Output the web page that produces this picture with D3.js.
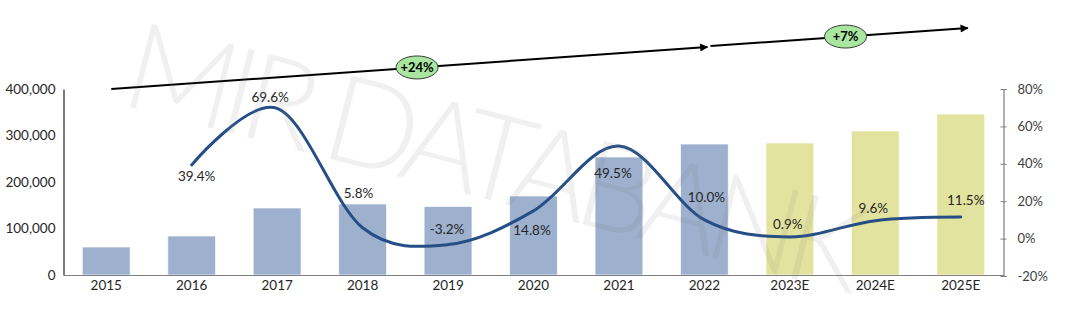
<!DOCTYPE html>
<html>
<head>
<meta charset="utf-8">
<script src="https://cdn.jsdelivr.net/npm/d3@7"></script>
<style>
  html, body { margin: 0; padding: 0; background: #fff; }
  svg text { font-family: Lato, "Liberation Sans", sans-serif; }
</style>
</head>
<body>
<svg id="chart" width="1080" height="322"></svg>
<script>
// ---- data ----
const years = ["2015", "2016", "2017", "2018", "2019", "2020", "2021", "2022", "2023E", "2024E", "2025E"];
const volume = [60200, 83900, 144100, 152700, 147300, 169900, 253800, 281700, 283900, 309700, 346200];
const growthYears = ["2016", "2017", "2018", "2019", "2020", "2021", "2022", "2023E", "2024E", "2025E"];
const growth = [39.4, 69.6, 5.8, -3.2, 14.8, 49.5, 10.0, 0.9, 9.6, 11.5];
const forecastYears = ["2023E", "2024E", "2025E"];
const leftTicks = [0, 100000, 200000, 300000, 400000];
const rightTicks = [-20, 0, 20, 40, 60, 80];
const cagrLabels = ["+24%", "+7%"];
const cagrSpans = [["2015", "2022"], ["2022", "2025E"]];

// ---- layout ----
const plot = { left: 63.5, right: 1003.5, top: 89, bottom: 275 };
// label nudges (dx, dy) from each growth point
const labelNudge = [[5, 11], [-7, -11], [-4, -35], [-1, -15.5], [-1.5, 19], [-6, 27], [2, -23], [-2, -13], [-2, -13], [5, -16.5]];

const svg = d3.select("#chart");

const x = d3.scaleBand().domain(years).range([plot.left, plot.right])
  .paddingInner(0.44).paddingOuter(0.22);
const yL = d3.scaleLinear().domain([0, 400000]).range([plot.bottom, plot.top]);
const yR = d3.scaleLinear().domain([-20, 80]).range([plot.bottom + 1, plot.top]);
const cx = d => x(d) + x.bandwidth() / 2;

// bars
svg.append("g").selectAll("rect").data(years).join("rect")
  .attr("x", d => x(d))
  .attr("width", x.bandwidth())
  .attr("y", (d, i) => yL(volume[i]))
  .attr("height", (d, i) => plot.bottom - yL(volume[i]))
  .attr("fill", d => forecastYears.includes(d) ? "#e2e39e" : "#9db0ce")
  .attr("stroke", "rgba(255,255,255,0.7)")
  .attr("stroke-width", 1);

// left axis: line and labels only
const gL = svg.append("g").attr("transform", `translate(${plot.left},0)`)
  .call(d3.axisLeft(yL).tickValues(leftTicks).tickSize(0).tickPadding(8)
    .tickFormat(d3.format(",")));
gL.select(".domain").attr("stroke", "#262626").attr("stroke-width", 1.2);
gL.selectAll("text").attr("font-size", 13.5).attr("fill", "#262626");

// right axis
const gR = svg.append("g").attr("transform", `translate(${plot.right},0)`)
  .call(d3.axisRight(yR).tickValues(rightTicks).tickSize(3).tickPadding(11)
    .tickFormat(d => d + "%"));
gR.select(".domain").attr("stroke", "#7f7f7f").attr("stroke-width", 1.2);
gR.selectAll(".tick line").attr("x1", -3).attr("x2", 3).attr("stroke", "#7f7f7f");
gR.selectAll("text").attr("font-size", 13).attr("fill", "#404040");

// category axis
const gX = svg.append("g").attr("transform", `translate(0,${plot.bottom})`)
  .call(d3.axisBottom(x).tickSize(0).tickPadding(5));
gX.select(".domain").attr("stroke", "#808080").attr("stroke-width", 1.2);
gX.selectAll("text").attr("font-size", 13.5).attr("fill", "#262626");

// growth line
const pts = growthYears.map((d, i) => [cx(d), yR(growth[i])]);
svg.append("path")
  .attr("d", d3.line().curve(d3.curveCardinal.tension(0))(pts))
  .attr("fill", "none")
  .attr("stroke", "#264e86")
  .attr("stroke-width", 3)
  .attr("stroke-linecap", "round");

svg.append("g").selectAll("text").data(growthYears).join("text")
  .attr("x", (d, i) => cx(d) + labelNudge[i][0])
  .attr("y", (d, i) => yR(growth[i]) + labelNudge[i][1])
  .attr("dy", "0.36em")
  .attr("text-anchor", "middle")
  .attr("font-size", 13.5)
  .attr("fill", "#262626")
  .text((d, i) => growth[i].toFixed(1) + "%");

// CAGR arrows
const defs = svg.append("defs");
defs.append("marker").attr("id", "arrow")
  .attr("viewBox", "0 0 10 10").attr("refX", 9).attr("refY", 5)
  .attr("markerWidth", 5).attr("markerHeight", 4).attr("orient", "auto")
  .append("path").attr("d", "M0,0L10,5L0,10Z").attr("fill", "#000");

const arrowY = [[89, 47], [46, 28]];
const arrowDx = [[5, 3], [6, 7]];
const bubbleAt = [0.513, 0.525];
cagrSpans.forEach((span, k) => {
  const x1 = cx(span[0]) + arrowDx[k][0], x2 = cx(span[1]) + arrowDx[k][1];
  const [y1, y2] = arrowY[k];
  svg.append("line")
    .attr("x1", x1).attr("y1", y1).attr("x2", x2).attr("y2", y2)
    .attr("stroke", "#000").attr("stroke-width", 2)
    .attr("marker-end", "url(#arrow)");
  const bx = x1 + (x2 - x1) * bubbleAt[k], by = y1 + (y2 - y1) * bubbleAt[k];
  svg.append("ellipse").attr("cx", bx).attr("cy", by).attr("rx", 21).attr("ry", 11.5)
    .attr("fill", "#a9e6a0").attr("stroke", "#3a3a3a").attr("stroke-width", 1);
  svg.append("text").attr("x", bx).attr("y", by).attr("dy", "0.36em")
    .attr("text-anchor", "middle").attr("font-size", 13).attr("font-weight", "bold")
    .attr("fill", "#000").text(cagrLabels[k]);
});

// watermark
svg.append("text")
  .attr("transform", "translate(118,104) rotate(14.5)")
  .attr("font-family", "'Open Sans', sans-serif")
  .attr("font-weight", 300)
  .attr("font-size", 122)
  .attr("textLength", 760)
  .attr("lengthAdjust", "spacing")
  .attr("fill", "rgba(120,120,120,0.11)")
  .text("MIR DATABANK");
</script>
</body>
</html>
